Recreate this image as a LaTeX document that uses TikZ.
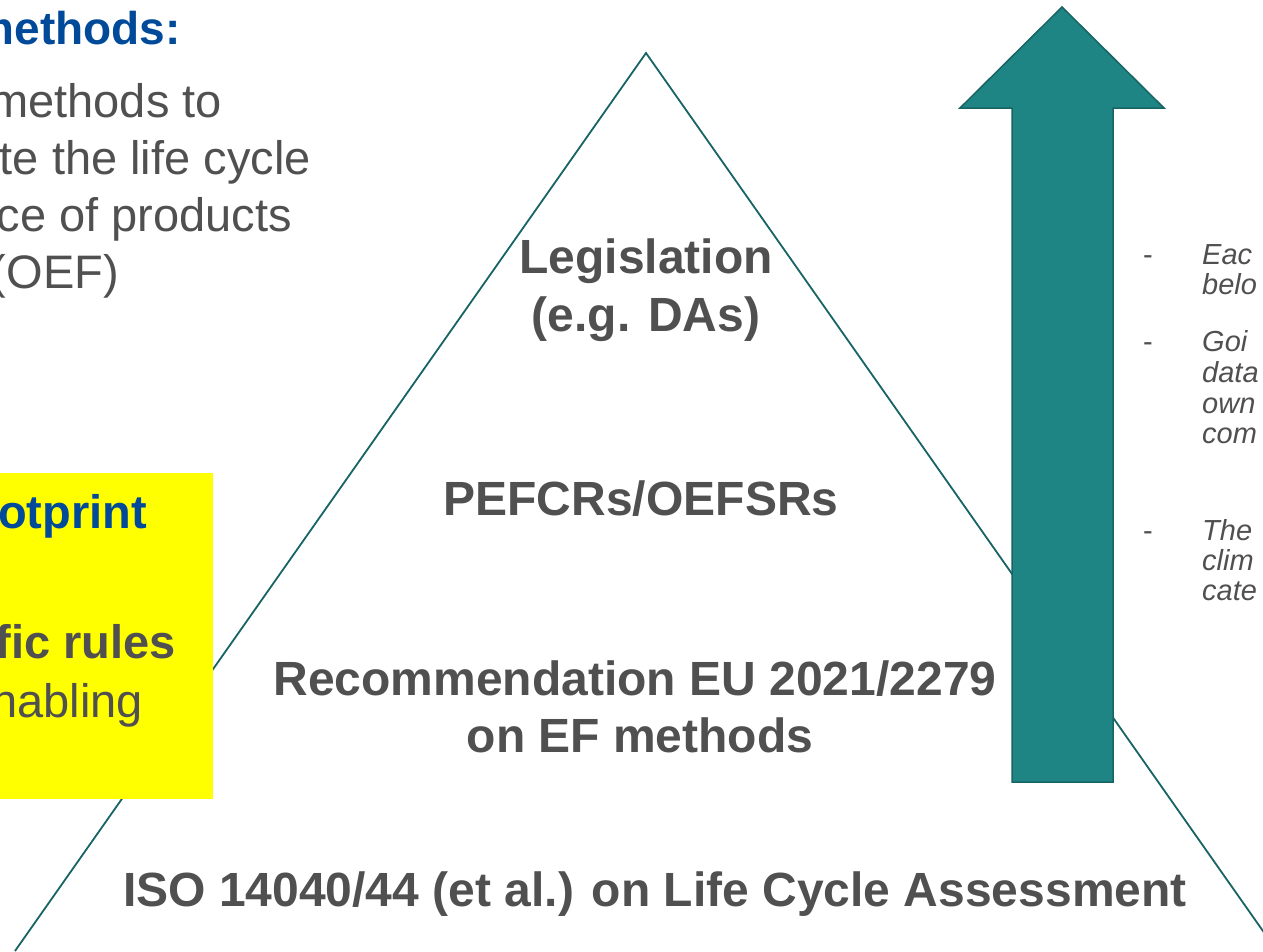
\documentclass[tikz,border=0pt]{standalone}
\usepackage{fontspec}
\setmainfont{Liberation Sans}
\definecolor{txtgray}{RGB}{80,80,80}
\definecolor{efblue}{RGB}{0,74,153}
\definecolor{tealfill}{RGB}{30,132,132}
\definecolor{tealline}{RGB}{24,100,100}
\definecolor{yel}{RGB}{255,255,0}
\begin{document}
\begin{tikzpicture}[x=1pt,y=-1pt,
  center/.style={inner sep=0pt, anchor=base, text=txtgray, font=\fontsize{48}{57}\selectfont\bfseries},
  leftbody/.style={inner sep=0pt, anchor=base east, text=txtgray, font=\fontsize{47}{56}\selectfont},
  leftbold/.style={inner sep=0pt, anchor=base east, text=txtgray, font=\fontsize{47}{56}\selectfont\bfseries},
  lefthead/.style={inner sep=0pt, anchor=base east, text=efblue, font=\fontsize{47}{56}\selectfont\bfseries},
  dashmark/.style={inner sep=0pt, anchor=base west, text=txtgray, font=\fontsize{29}{34}\selectfont},
  rightbody/.style={inner sep=0pt, anchor=base west, text=txtgray, font=\fontsize{29}{34}\selectfont\itshape},
  triline/.style={draw=tealline, line width=1.8pt},
  bigarrow/.style={fill=tealfill, draw=tealline, line width=1.5pt, line join=miter}
]
\useasboundingbox (0,0) rectangle (1263,951);
\clip (0,0) rectangle (1263,951);
\fill[white] (0,0) rectangle (1263,951);

% pyramid
\coordinate (apex) at (646,53);
\coordinate (bl) at (15,951);
\coordinate (br) at (1277,951);
\draw[triline] (bl) -- (apex) -- (br);

% yellow box
\fill[yel] (-5,473) rectangle (213,799);

% big arrow
\draw[bigarrow] (1062,7) -- (1164,108) -- (1113,108) -- (1113,782) -- (1012,782) -- (1012,108) -- (960,108) -- cycle;

% pyramid labels
\node[center] (leg1) at (646,273) {Legislation};
\node[center] (leg2) at (646,331) {(e.g. DAs)};
\node[center] (pef) at (641,515) {PEFCRs/OEFSRs};
\node[center] (rec1) at (635,695) {Recommendation EU 2021/2279};
\node[center] (rec2) at (640,752) {on EF methods};
\node[center] (iso) at (655,906) {ISO 14040/44 (et al.) on Life Cycle Assessment};

% left text (cut off at the left edge)
\node[lefthead, font=\fontsize{46}{54}\selectfont\bfseries] (h1) at (181,44) {methods:};
\node[leftbody] (l1) at (222,117) {methods to};
\node[leftbody] (l2) at (311,174) {te the life cycle};
\node[leftbody] (l3) at (292,231) {ce of products};
\node[leftbody] (l4) at (119,288) {(OEF)};

% yellow box text
\node[lefthead] (y1) at (147,528) {otprint};
\node[leftbold] (y2) at (176,658) {fic rules};
\node[leftbody] (y3) at (143,717) {nabling};

% right column (cut off at the right edge)
\node[dashmark] (d1) at (1143,264) {-};
\node[rightbody] (r1) at (1202,264) {Eac};
\node[rightbody] (r2) at (1202,294) {belo};
\node[dashmark] (d2) at (1143,351) {-};
\node[rightbody] (r3) at (1202,351) {Goi};
\node[rightbody] (r4) at (1202,382) {data};
\node[rightbody] (r5) at (1202,413) {own};
\node[rightbody] (r6) at (1202,443) {com};
\node[dashmark] (d3) at (1143,540) {-};
\node[rightbody] (r7) at (1202,540) {The};
\node[rightbody] (r8) at (1202,570) {clim};
\node[rightbody] (r9) at (1202,600) {cate};
\end{tikzpicture}
\end{document}
